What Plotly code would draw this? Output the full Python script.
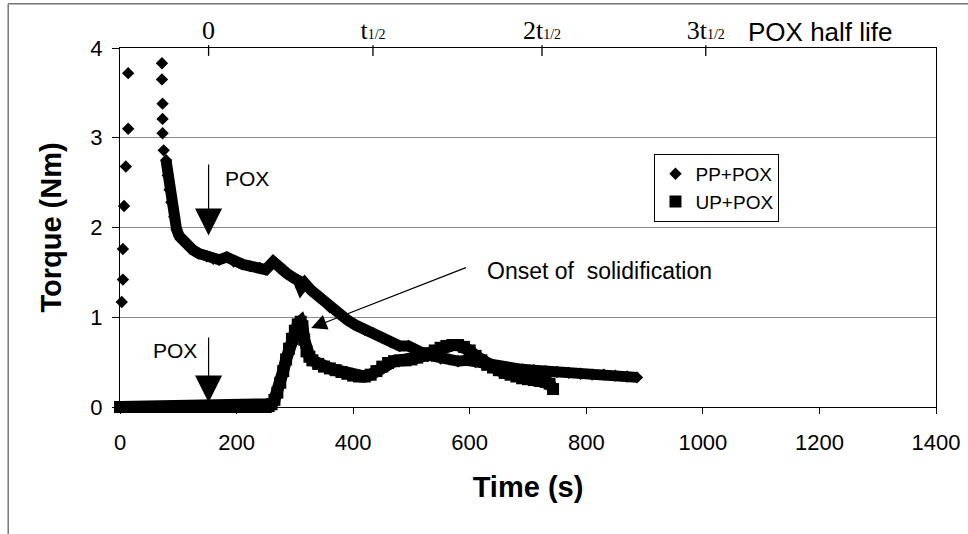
import plotly.graph_objects as go

# ---------------- data ----------------
pp_time = [3, 5, 5, 7, 10, 14, 14,
           72, 72, 73, 73, 73, 75,
           79, 82, 85, 88, 93, 97, 102, 108, 116, 125, 135, 149, 160, 170, 183,
           195, 210, 223, 240, 250, 263, 275, 286, 300, 306, 311, 317, 328, 342,
           360, 375, 390, 405, 420, 435, 450, 465, 480, 495, 505, 520, 535, 550,
           565, 580, 595, 610, 625, 640, 655, 670, 690, 710, 730, 750, 770, 790,
           810, 830, 850, 870, 887]
pp_torque = [1.17, 1.42, 1.76, 2.24, 2.68, 3.10, 3.72,
             3.83, 3.65, 3.38, 3.21, 3.05, 2.86,
             2.75, 2.58, 2.42, 2.28, 2.12, 1.98, 1.90, 1.85, 1.80, 1.75, 1.71, 1.68, 1.65, 1.64, 1.67,
             1.62, 1.59, 1.57, 1.55, 1.53, 1.62, 1.54, 1.49, 1.43, 1.41, 1.33, 1.38, 1.30, 1.22,
             1.11, 1.04, 0.97, 0.91, 0.86, 0.82, 0.77, 0.72, 0.68, 0.68, 0.64, 0.60, 0.57, 0.54,
             0.53, 0.51, 0.52, 0.50, 0.48, 0.46, 0.44, 0.43, 0.42, 0.41, 0.40, 0.39, 0.38, 0.37,
             0.36, 0.36, 0.35, 0.34, 0.33]
pp_band_start = 13  # index where the diamonds merge into a continuous band

up_time = [0, 10, 20, 30, 40, 50, 60, 70, 80, 90, 100, 110, 120, 130, 140, 150, 160,
           170, 180, 190, 200, 210, 220, 230, 240, 250, 255, 260, 265, 270, 275, 280,
           285, 290, 295, 300, 305, 310, 313, 316, 320, 325, 330, 340, 350, 360, 370,
           380, 390, 400, 410, 420, 430, 440, 450, 460, 470, 480, 490, 500, 510, 520,
           530, 540, 550, 560, 570, 580, 590, 600, 610, 620, 630, 640, 650, 660, 670,
           680, 690, 700, 710, 720, 730, 737, 743]
up_torque = [0, 0, 0, 0, 0, 0, 0, 0, 0, 0, 0, 0, 0, 0, 0, 0, 0,
             0, 0, 0, 0, 0, 0, 0, 0, 0, 0.01, 0.03, 0.08, 0.16, 0.27, 0.40,
             0.53, 0.65, 0.76, 0.85, 0.92, 0.95, 0.90, 0.75, 0.62, 0.56, 0.52, 0.48, 0.45, 0.43, 0.41,
             0.39, 0.37, 0.35, 0.34, 0.34, 0.36, 0.40, 0.45, 0.49, 0.51, 0.52, 0.52, 0.53, 0.55, 0.57,
             0.60, 0.63, 0.66, 0.68, 0.69, 0.69, 0.67, 0.63, 0.57, 0.52, 0.47, 0.44, 0.41, 0.38, 0.36,
             0.34, 0.32, 0.31, 0.30, 0.29, 0.28, 0.26, 0.20]

x_ticks = [0, 200, 400, 600, 800, 1000, 1200, 1400]
y_ticks = [0, 1, 2, 3, 4]
top_tick_times = [152, 434, 724, 1005]
top_tick_labels = ["0",
                   "t<span style='font-size:14px'>1/2</span>",
                   "2t<span style='font-size:14px'>1/2</span>",
                   "3t<span style='font-size:14px'>1/2</span>"]

SANS = "Liberation Sans, Arial, sans-serif"
SERIF = "Liberation Serif, Times New Roman, serif"

fig = go.Figure()

# continuous bands (thick lines beneath the markers)
fig.add_trace(go.Scatter(x=up_time, y=up_torque, mode="lines",
                         line=dict(color="black", width=12),
                         showlegend=False, hoverinfo="skip", cliponaxis=False))
fig.add_trace(go.Scatter(x=pp_time[pp_band_start:], y=pp_torque[pp_band_start:], mode="lines",
                         line=dict(color="black", width=11),
                         showlegend=False, hoverinfo="skip", cliponaxis=False))

fig.add_trace(go.Scatter(x=pp_time, y=pp_torque, mode="markers", name="PP+POX",
                         marker=dict(symbol="diamond", size=9.5, color="black"),
                         cliponaxis=False))
fig.add_trace(go.Scatter(x=up_time, y=up_torque, mode="markers", name="UP+POX",
                         marker=dict(symbol="square", size=12, color="black"),
                         cliponaxis=False))

# invisible trace to carry the top (half-life) axis
fig.add_trace(go.Scatter(x=[0, 1400], y=[None, None], xaxis="x2", mode="lines",
                         showlegend=False, hoverinfo="skip"))

fig.update_layout(
    width=968, height=534,
    margin=dict(l=120, r=32, t=48, b=127, autoexpand=False),
    paper_bgcolor="white", plot_bgcolor="white",
    font=dict(family=SANS, color="black"),
    xaxis=dict(range=[0, 1400], tickvals=x_ticks, ticks="outside", ticklen=6,
               tickcolor="black", showline=True, linecolor="black", linewidth=1,
               mirror=True, showgrid=False, zeroline=False, automargin=False,
               tickfont=dict(family=SANS, size=22, color="black"),
               ticklabelstandoff=10,
               title=dict(text="<b>Time (s)</b>", font=dict(family=SANS, size=29),
                          standoff=22)),
    xaxis2=dict(overlaying="x", side="top", range=[0, 1400], tickvals=top_tick_times,
                ticktext=top_tick_labels, ticks="", showline=False, showgrid=False,
                zeroline=False, automargin=False, ticklabelstandoff=3,
                tickfont=dict(family=SERIF, size=26, color="black")),
    yaxis=dict(range=[0, 4], tickvals=y_ticks, ticks="outside", ticklen=7,
               tickcolor="black", showline=True, linecolor="black", linewidth=1,
               mirror=True, showgrid=True, gridcolor="#8a8a8a", gridwidth=1,
               zeroline=False, automargin=False,
               tickfont=dict(family=SANS, size=22, color="black"),
               ticklabelstandoff=5,
               title=dict(text="<b>Torque (Nm)</b>", font=dict(family=SANS, size=29),
                          standoff=20)),
    legend=dict(x=0.655, y=0.705, xanchor="left", yanchor="top",
                bordercolor="black", borderwidth=1, bgcolor="white",
                font=dict(family=SANS, size=19, color="black")),
    showlegend=True,
)

arrow_common = dict(xref="x", yref="y", axref="x", ayref="y", text="",
                    showarrow=True, arrowcolor="black")
fig.add_annotation(x=152, y=1.91, ax=152, ay=2.72, arrowhead=2, arrowsize=4.5,
                   arrowwidth=1.2, **arrow_common)
fig.add_annotation(x=152, y=0.05, ax=152, ay=0.79, arrowhead=2, arrowsize=4.5,
                   arrowwidth=1.2, **arrow_common)
fig.add_annotation(x=328, y=0.88, ax=596, ay=1.56, arrowhead=2, arrowsize=2.6,
                   arrowwidth=1.2, **arrow_common)

# tick marks of the top axis, crossing the frame line as in the reference
for t in top_tick_times:
    fig.add_shape(type="line", xref="x", yref="paper", x0=t, x1=t, y0=1.008, y1=0.978,
                  line=dict(color="black", width=1.3))

fig.add_annotation(x=218, y=2.55, xref="x", yref="y", text="POX", showarrow=False,
                   font=dict(family=SANS, size=21, color="black"))
fig.add_annotation(x=94, y=0.63, xref="x", yref="y", text="POX", showarrow=False,
                   font=dict(family=SANS, size=21, color="black"))
fig.add_annotation(x=626, y=1.51, xref="x", yref="y", xanchor="left",
                   text="Onset of  solidification", showarrow=False,
                   font=dict(family=SANS, size=23, color="black"))
fig.add_annotation(x=0.858, y=1.045, xref="paper", yref="paper",
                   xanchor="center", yanchor="middle",
                   text="POX half life", showarrow=False,
                   font=dict(family=SANS, size=26, color="black"))

# outer frame of the figure (left and top edges visible in the reference)
fig.add_shape(type="line", xref="paper", yref="paper", x0=-0.137, x1=-0.137,
              y0=1.123, y1=-0.40, line=dict(color="#777777", width=1.5))
fig.add_shape(type="line", xref="paper", yref="paper", x0=-0.137, x1=1.04,
              y0=1.123, y1=1.123, line=dict(color="#777777", width=1.5))

fig.write_html("out.html")
